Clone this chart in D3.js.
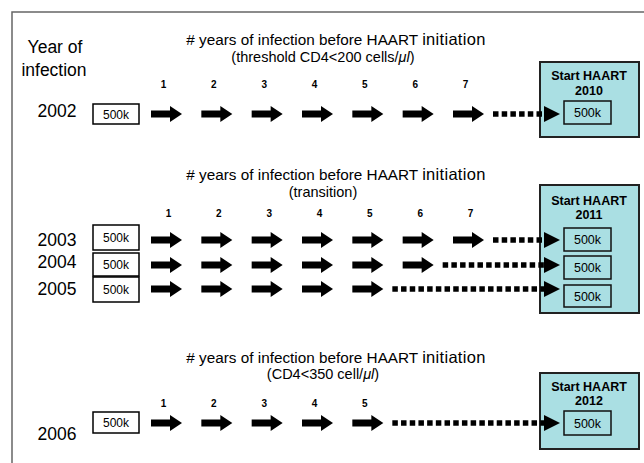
<!DOCTYPE html>
<html>
<head>
<meta charset="utf-8">
<script src="https://cdn.jsdelivr.net/npm/d3@7"></script>
<style>
body { margin: 0; background: #fff; }
text { font-family: "Liberation Sans", Arial, Helvetica, sans-serif; }
</style>
</head>
<body>
<div id="chart"></div>
<script>
// data
const infectionYears = [2002, 2003, 2004, 2005, 2006];
const rowPanel = [0, 1, 1, 1, 2];
const yearsBeforeHaart = [7, 7, 6, 5, 5];
const cohortLabels = ["500k", "500k", "500k", "500k", "500k"];
const panelTitle = "# years of infection before HAART ";
const panelTitleEnd = "initiation";
const panelSubtitles = [
    ["(threshold CD4<200 cells/", "μl", ")"],
    ["(transition)", "", ""],
    ["(CD4<350 cell/", "μl", ")"]
];
const panelSteps = [7, 7, 5];
const haartStartYears = [2010, 2011, 2012];

// layout
const width = 644, height = 463;
const panels = [
    {title: 45, sub: 62, nums: 88, numShift: 0, box: [62, 137], start: 80, year: 95},
    {title: 180, sub: 197, nums: 217, numShift: 5, box: [185, 313], start: 205, year: 219},
    {title: 363, sub: 379, nums: 407, numShift: 0, box: [373, 449], start: 391, year: 405}
];
const rows = [
    {y: 114, box: [104, 124], label: 117, inner: [101, 124]},
    {y: 240, box: [225, 250], label: 246, inner: [228, 251]},
    {y: 265, box: [253, 276], label: 268, inner: [256, 279]},
    {y: 289, box: [277, 302], label: 295, inner: [285, 307]},
    {y: 423, box: [412, 433], label: 440, inner: [411, 435]}
];

const x = d3.scaleLinear().domain([1, 7]).range([151, 453]);
const arrowLen = 31, dotGap = 9;
const haartX = [540, 639], innerX = [564, 611], leftBoxX = [93, 139];
const headStart = 544;

const svg = d3.select("#chart")
    .append("svg")
    .attr("width", width)
    .attr("height", height);

// frame
svg.append("path")
    .attr("d", `M12,${height}V12H${width}`)
    .attr("fill", "none")
    .attr("stroke", "#666")
    .attr("stroke-width", 1.5);

// row header
svg.append("text")
    .attr("x", 55).attr("y", 53)
    .attr("text-anchor", "middle")
    .attr("font-size", 17.5)
    .text("Year of");
svg.append("text")
    .attr("x", 54).attr("y", 76)
    .attr("text-anchor", "middle")
    .attr("font-size", 17.5)
    .text("infection");

// panel titles
const titles = svg.selectAll(".ptitle")
    .data(panels)
    .join("text")
    .attr("class", "ptitle")
    .attr("x", 336)
    .attr("y", d => d.title)
    .attr("text-anchor", "middle")
    .attr("font-size", 15.3);
titles.append("tspan").text(panelTitle);
titles.append("tspan").attr("font-size", 16.5).attr("letter-spacing", 0.3).text(panelTitleEnd);

const subs = svg.selectAll(".psub")
    .data(panels)
    .join("text")
    .attr("class", "psub")
    .attr("x", 323)
    .attr("y", d => d.sub)
    .attr("text-anchor", "middle")
    .attr("font-size", 14.5);
subs.append("tspan").text((d, i) => panelSubtitles[i][0]);
subs.append("tspan").attr("font-style", "italic").text((d, i) => panelSubtitles[i][1]);
subs.append("tspan").text((d, i) => panelSubtitles[i][2]);

// step numbers
panels.forEach((p, i) => {
    svg.selectAll(".step" + i)
        .data(d3.range(1, panelSteps[i] + 1))
        .join("text")
        .attr("class", "step" + i)
        .attr("x", d => x(d) + arrowLen / 2 - 3 + p.numShift)
        .attr("y", p.nums)
        .attr("text-anchor", "middle")
        .attr("font-size", 10)
        .attr("font-weight", "bold")
        .text(d => d);
});

// HAART boxes
svg.selectAll(".haart")
    .data(panels)
    .join("rect")
    .attr("class", "haart")
    .attr("x", haartX[0])
    .attr("y", d => d.box[0])
    .attr("width", haartX[1] - haartX[0])
    .attr("height", d => d.box[1] - d.box[0])
    .attr("fill", "#aadfe3")
    .attr("stroke", "#222")
    .attr("stroke-width", 2);

svg.selectAll(".hstart")
    .data(panels)
    .join("text")
    .attr("class", "hstart")
    .attr("x", 589)
    .attr("y", d => d.start)
    .attr("text-anchor", "middle")
    .attr("font-size", 12.5)
    .attr("font-weight", "bold")
    .text("Start HAART");

svg.selectAll(".hyear")
    .data(panels)
    .join("text")
    .attr("class", "hyear")
    .attr("x", 589)
    .attr("y", d => d.year)
    .attr("text-anchor", "middle")
    .attr("font-size", 12.5)
    .attr("font-weight", "bold")
    .text((d, i) => haartStartYears[i]);

// rows
const rowData = infectionYears.map((yr, i) => ({
    year: yr, panel: rowPanel[i], n: yearsBeforeHaart[i], label: cohortLabels[i], pos: rows[i]
}));

svg.selectAll(".yr")
    .data(rowData)
    .join("text")
    .attr("class", "yr")
    .attr("x", 57)
    .attr("y", d => d.pos.label)
    .attr("text-anchor", "middle")
    .attr("font-size", 17.5)
    .text(d => d.year);

svg.selectAll(".lbox")
    .data(rowData)
    .join("rect")
    .attr("class", "lbox")
    .attr("x", leftBoxX[0])
    .attr("y", d => d.pos.box[0])
    .attr("width", leftBoxX[1] - leftBoxX[0])
    .attr("height", d => d.pos.box[1] - d.pos.box[0])
    .attr("fill", "#fff")
    .attr("stroke", "#000")
    .attr("stroke-width", 1.5);

svg.selectAll(".ltext")
    .data(rowData)
    .join("text")
    .attr("class", "ltext")
    .attr("x", (leftBoxX[0] + leftBoxX[1]) / 2)
    .attr("y", d => (d.pos.box[0] + d.pos.box[1]) / 2 + 4.5)
    .attr("text-anchor", "middle")
    .attr("font-size", 12)
    .text(d => d.label);

const arrowShape = "M0,-3.5H19V-8L31,0L19,8V3.5H0Z";

rowData.forEach((r, i) => {
    svg.selectAll(".arrow" + i)
        .data(d3.range(1, r.n + 1))
        .join("path")
        .attr("class", "arrow" + i)
        .attr("d", arrowShape)
        .attr("transform", d => `translate(${x(d)},${r.pos.y})`)
        .attr("fill", "#000");

    const x0 = x(r.n) + arrowLen + dotGap;
    svg.append("line")
        .attr("x1", x0)
        .attr("x2", headStart)
        .attr("y1", r.pos.y)
        .attr("y2", r.pos.y)
        .attr("stroke", "#000")
        .attr("stroke-width", 5.5)
        .attr("stroke-dasharray", "5.5,3.2");

    svg.append("path")
        .attr("d", "M0,-8L16,0L0,8Z")
        .attr("transform", `translate(${headStart},${r.pos.y})`)
        .attr("fill", "#000");

    svg.append("rect")
        .attr("x", innerX[0])
        .attr("y", r.pos.inner[0])
        .attr("width", innerX[1] - innerX[0])
        .attr("height", r.pos.inner[1] - r.pos.inner[0])
        .attr("fill", "none")
        .attr("stroke", "#111")
        .attr("stroke-width", 1.5);

    svg.append("text")
        .attr("x", (innerX[0] + innerX[1]) / 2)
        .attr("y", (r.pos.inner[0] + r.pos.inner[1]) / 2 + 4.5)
        .attr("text-anchor", "middle")
        .attr("font-size", 12.5)
        .text(r.label);
});
</script>
</body>
</html>
